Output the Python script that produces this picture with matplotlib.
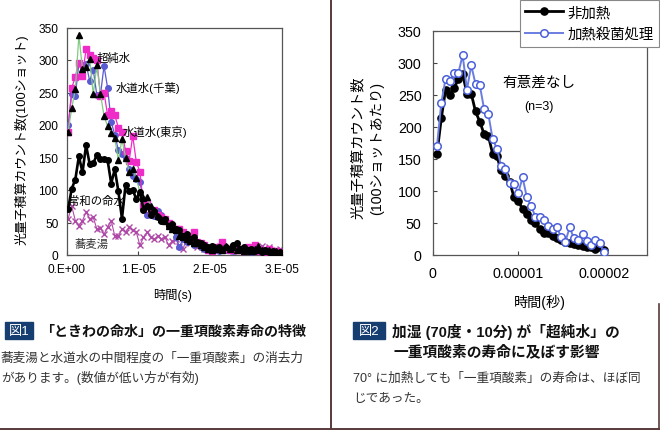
import numpy as np
import matplotlib
matplotlib.use("Agg")
import matplotlib.pyplot as plt
from matplotlib.patches import Rectangle
from matplotlib.lines import Line2D

plt.rcParams['font.family'] = ['Liberation Sans', 'Noto Sans CJK JP', 'DejaVu Sans']

# ---------------- data: figure 1 ----------------
t1_start, t1_step = 0.2e-6, 0.5e-6
tokiwa = [71, 102, 116, 152, 127, 169, 140, 141, 154, 148, 147, 146, 110, 132, 98, 56,
          108, 98, 100, 86, 97, 70, 76, 62, 68, 58, 52, 55, 45, 48, 40, 38, 30, 33, 25,
          28, 20, 18, 15, 12, 14, 10, 12, 8, 13, 10, 16, 18, 10, 12, 7, 10, 6, 8, 5, 7,
          4, 6, 3, 4]
ultrapure = [190, 226, 255, 338, 286, 290, 302, 247, 292, 248, 214, 198, 188, 180, 146,
             178, 150, 128, 132, 118, 97, 88, 90, 75, 70, 60, 55, 52, 45, 40, 38, 30, 28,
             25, 22, 18, 18, 15, 12, 10, 8, 12, 10, 8, 14, 10, 12, 8, 10, 6, 8, 6, 10, 14,
             8, 6, 8, 5, 6, 4]
tap_chiba = [190, 257, 274, 296, 276, 317, 307, 303, 300, 245, 250, 215, 222, 215, 196,
             190, 160, 145, 183, 143, 128, 76, 80, 66, 70, 62, 58, 55, 50, 45, 40, 40, 35,
             30, 25, 36, 20, 18, 15, 8, 6, 12, 10, 20, 10, 8, 12, 8, 10, 6, 12, 8, 16, 6,
             8, 5, 10, 6, 6, 4]
tap_tokyo = [200, 248, 245, 295, 292, 294, 268, 285, 246, 246, 291, 257, 205, 185, 161,
             156, 150, 133, 122, 117, 112, 85, 62, 66, 60, 68, 61, 55, 48, 40, 28, 12, 25,
             20, 22, 15, 18, 12, 10, 8, 10, 8, 6, 12, 8, 10, 6, 8, 10, 6, 8, 5, 8, 6, 5, 6,
             4, 5, 4, 3]
soba = [56, 75, 53, 45, 53, 66, 56, 58, 40, 42, 32, 43, 53, 29, 29, 40, 35, 43, 38, 35,
        15, 27, 35, 27, 24, 29, 25, 27, 15, 21, 24, 14, 9, 25, 18, 20, 12, 15, 10, 12, 8,
        14, 10, 12, 8, 10, 6, 12, 8, 10, 6, 12, 8, 10, 14, 8, 12, 6, 8, 10]
x1_ticks = [0, 1e-5, 2e-5, 3e-5]
x1_ticklabels = ["0.E+00", "1.E-05", "2.E-05", "3.E-05"]
y_ticks = [0, 50, 100, 150, 200, 250, 300, 350]

# ---------------- data: figure 2 ----------------
t2_step = 0.5e-6
unheated = [158, 213, 258, 249, 260, 275, 282, 252, 252, 224, 208, 189, 186, 158, 154,
            132, 124, 114, 90, 85, 71, 64, 54, 50, 41, 35, 35, 29, 26, 24, 20, 19, 17, 15,
            14, 13, 12, 10, 12, 8]
heated = [170, 237, 275, 272, 284, 284, 312, 258, 296, 267, 265, 228, 220, 181, 166, 139,
          134, 113, 111, 97, 121, 90, 76, 60, 59, 55, 46, 40, 43, 28, 21, 43, 26, 24, 33,
          22, 16, 24, 19, 4]
x2_ticks = [0, 1e-5, 2e-5]
x2_ticklabels = ["0", "0.00001", "0.00002"]

W, H = 660, 431
fig = plt.figure(figsize=(W / 100, H / 100), dpi=100)

def fx(px):
    return px / W

def fy(py):
    return 1 - py / H

# ---------------- left axes ----------------
ax1 = fig.add_axes([fx(66.7), fy(256), fx(282 - 66.7), (256 - 28.5) / H])
t1 = t1_start + t1_step * np.arange(len(tokiwa))
ax1.plot(t1, soba, color='#b04aa8', lw=0.8, marker='x', ms=4.0, mew=1.0, zorder=2)
ax1.plot(t1, tap_tokyo, color='#5a5ad2', lw=0.9, marker='o', ms=4.0, zorder=3)
ax1.plot(t1, tap_chiba, color='#f02cc8', lw=0.9, marker='s', ms=3.9, zorder=4)
ax1.plot(t1, ultrapure, color='#80cc80', lw=0.9, marker='^', ms=4.6,
         mfc='black', mec='black', zorder=5)
ax1.plot(t1, tokiwa, color='black', lw=1.9, marker='o', ms=4.0, zorder=6)
ax1.set_xlim(0, 3e-5)
ax1.set_ylim(0, 350)
ax1.set_xticks(x1_ticks)
ax1.set_xticklabels(x1_ticklabels)
ax1.set_yticks(y_ticks)
ax1.tick_params(direction='in', length=3, labelsize=8.6, pad=6, color='#444')
for s in ax1.spines.values():
    s.set_color('#555')
    s.set_linewidth(0.9)
ax1.text(4.2e-6, 305, "超純水", fontsize=8.2, va='center', ha='left', zorder=10)
ax1.text(6.76e-6, 259, "水道水(千葉)", fontsize=8.2, va='center', ha='left', zorder=10)
ax1.text(7.83e-6, 190, "水道水(東京)", fontsize=8.2, va='center', ha='left', zorder=10)
ax1.text(0.23e-6, 84, "常和の命水", fontsize=8.2, va='center', ha='left', zorder=10)
ax1.text(1.16e-6, 18, "蕎麦湯", fontsize=8.2, va='center', ha='left', color='#333', zorder=10)

fig.text(fx(21.7), fy(140), "光量子積算カウント数(100ショット)", rotation=90,
         fontsize=9.3, ha='center', va='center')
fig.text(fx(173), fy(295), "時間(s)", fontsize=8.8, ha='center', va='center')

# ---------------- right axes ----------------
ax2 = fig.add_axes([fx(432.7), fy(256), fx(646.7 - 432.7), (256 - 31.7) / H])
t2 = t2_step * (np.arange(len(unheated)) + 1)
l_un, = ax2.plot(t2, unheated, color='black', lw=2.0, marker='o', ms=5.2, zorder=3,
                 label="非加熱")
l_he, = ax2.plot(t2, heated, color='#6a7de0', lw=1.4, marker='o', ms=5.4, mfc='white',
                 mec='#4a5fd8', mew=1.1, zorder=4, label="加熱殺菌処理")
ax2.set_xlim(0, 2.5e-5)
ax2.set_ylim(0, 350)
ax2.set_xticks(x2_ticks)
ax2.set_xticklabels(x2_ticklabels)
ax2.set_yticks(y_ticks)
ax2.tick_params(direction='in', length=3, labelsize=10.3, pad=8, color='#444')
for s in ax2.spines.values():
    s.set_color('#555')
    s.set_linewidth(0.9)
ax2.text(1.243e-5, 270, "有意差なし", fontsize=10.5, ha='center', va='center')
ax2.text(1.243e-5, 233, "(n=3)", fontsize=9, ha='center', va='center')
fig.text(fx(358), fy(148), "光量子積算カウント数", rotation=90, fontsize=10.3,
         ha='center', va='center')
fig.text(fx(377), fy(148), "(100ショットあたり)", rotation=90, fontsize=10.3,
         ha='center', va='center')
fig.text(fx(540), fy(302), "時間(秒)", fontsize=10.2, ha='center', va='center')

leg = fig.legend(handles=[l_un, l_he], loc='upper right', bbox_to_anchor=(1.0, 1.0),
                 bbox_transform=fig.transFigure, fontsize=10.4, frameon=True,
                 fancybox=False, edgecolor='#888', framealpha=1, borderaxespad=0.1,
                 handlelength=2.6, labelspacing=0.55, borderpad=0.35, handletextpad=0.3)
leg.get_frame().set_linewidth(0.8)

# ---------------- captions ----------------
navy = '#173e70'
fig.patches.append(Rectangle((fx(5), fy(340)), fx(28.3), (340 - 323) / H,
                             transform=fig.transFigure, color=navy, zorder=1))
fig.text(fx(19), fy(331.5), "図1", color='white', fontsize=9.5, ha='center', va='center')
fig.text(fx(40), fy(331.5), "「ときわの命水」の一重項酸素寿命の特徴", fontsize=10.1,
         fontweight='bold', ha='left', va='center', color='#111')
fig.text(fx(1), fy(358), "蕎麦湯と水道水の中間程度の「一重項酸素」の消去力", fontsize=9.1,
         ha='left', va='center', color='#333')
fig.text(fx(1), fy(378), "があります。(数値が低い方が有効)", fontsize=9.1,
         ha='left', va='center', color='#333')

fig.patches.append(Rectangle((fx(352.7), fy(340)), fx(32.3), (340 - 323) / H,
                             transform=fig.transFigure, color=navy, zorder=1))
fig.text(fx(369), fy(331.5), "図2", color='white', fontsize=9.5, ha='center', va='center')
fig.text(fx(391.7), fy(331.5), "加湿 (70度・10分) が「超純水」の", fontsize=10.6,
         fontweight='bold', ha='left', va='center', color='#111')
fig.text(fx(393), fy(352), "一重項酸素の寿命に及ぼす影響", fontsize=10.6,
         fontweight='bold', ha='left', va='center', color='#111')
fig.text(fx(353), fy(379), "70° に加熱しても「一重項酸素」の寿命は、ほぼ同", fontsize=9.1,
         ha='left', va='center', color='#333')
fig.text(fx(353), fy(399), "じであった。", fontsize=9.1, ha='left', va='center', color='#333')

# frame lines
brown = '#5a3a3a'
fig.lines.append(Line2D([fx(331), fx(331)], [0, 1], transform=fig.transFigure,
                        color=brown, lw=1.4))
fig.lines.append(Line2D([fx(658.5), fx(658.5)], [0, fy(305)], transform=fig.transFigure,
                        color=brown, lw=1.2))
fig.lines.append(Line2D([0, 1], [fy(429.5), fy(429.5)], transform=fig.transFigure,
                        color=brown, lw=1.4))

fig.savefig("out.png", dpi=100)
